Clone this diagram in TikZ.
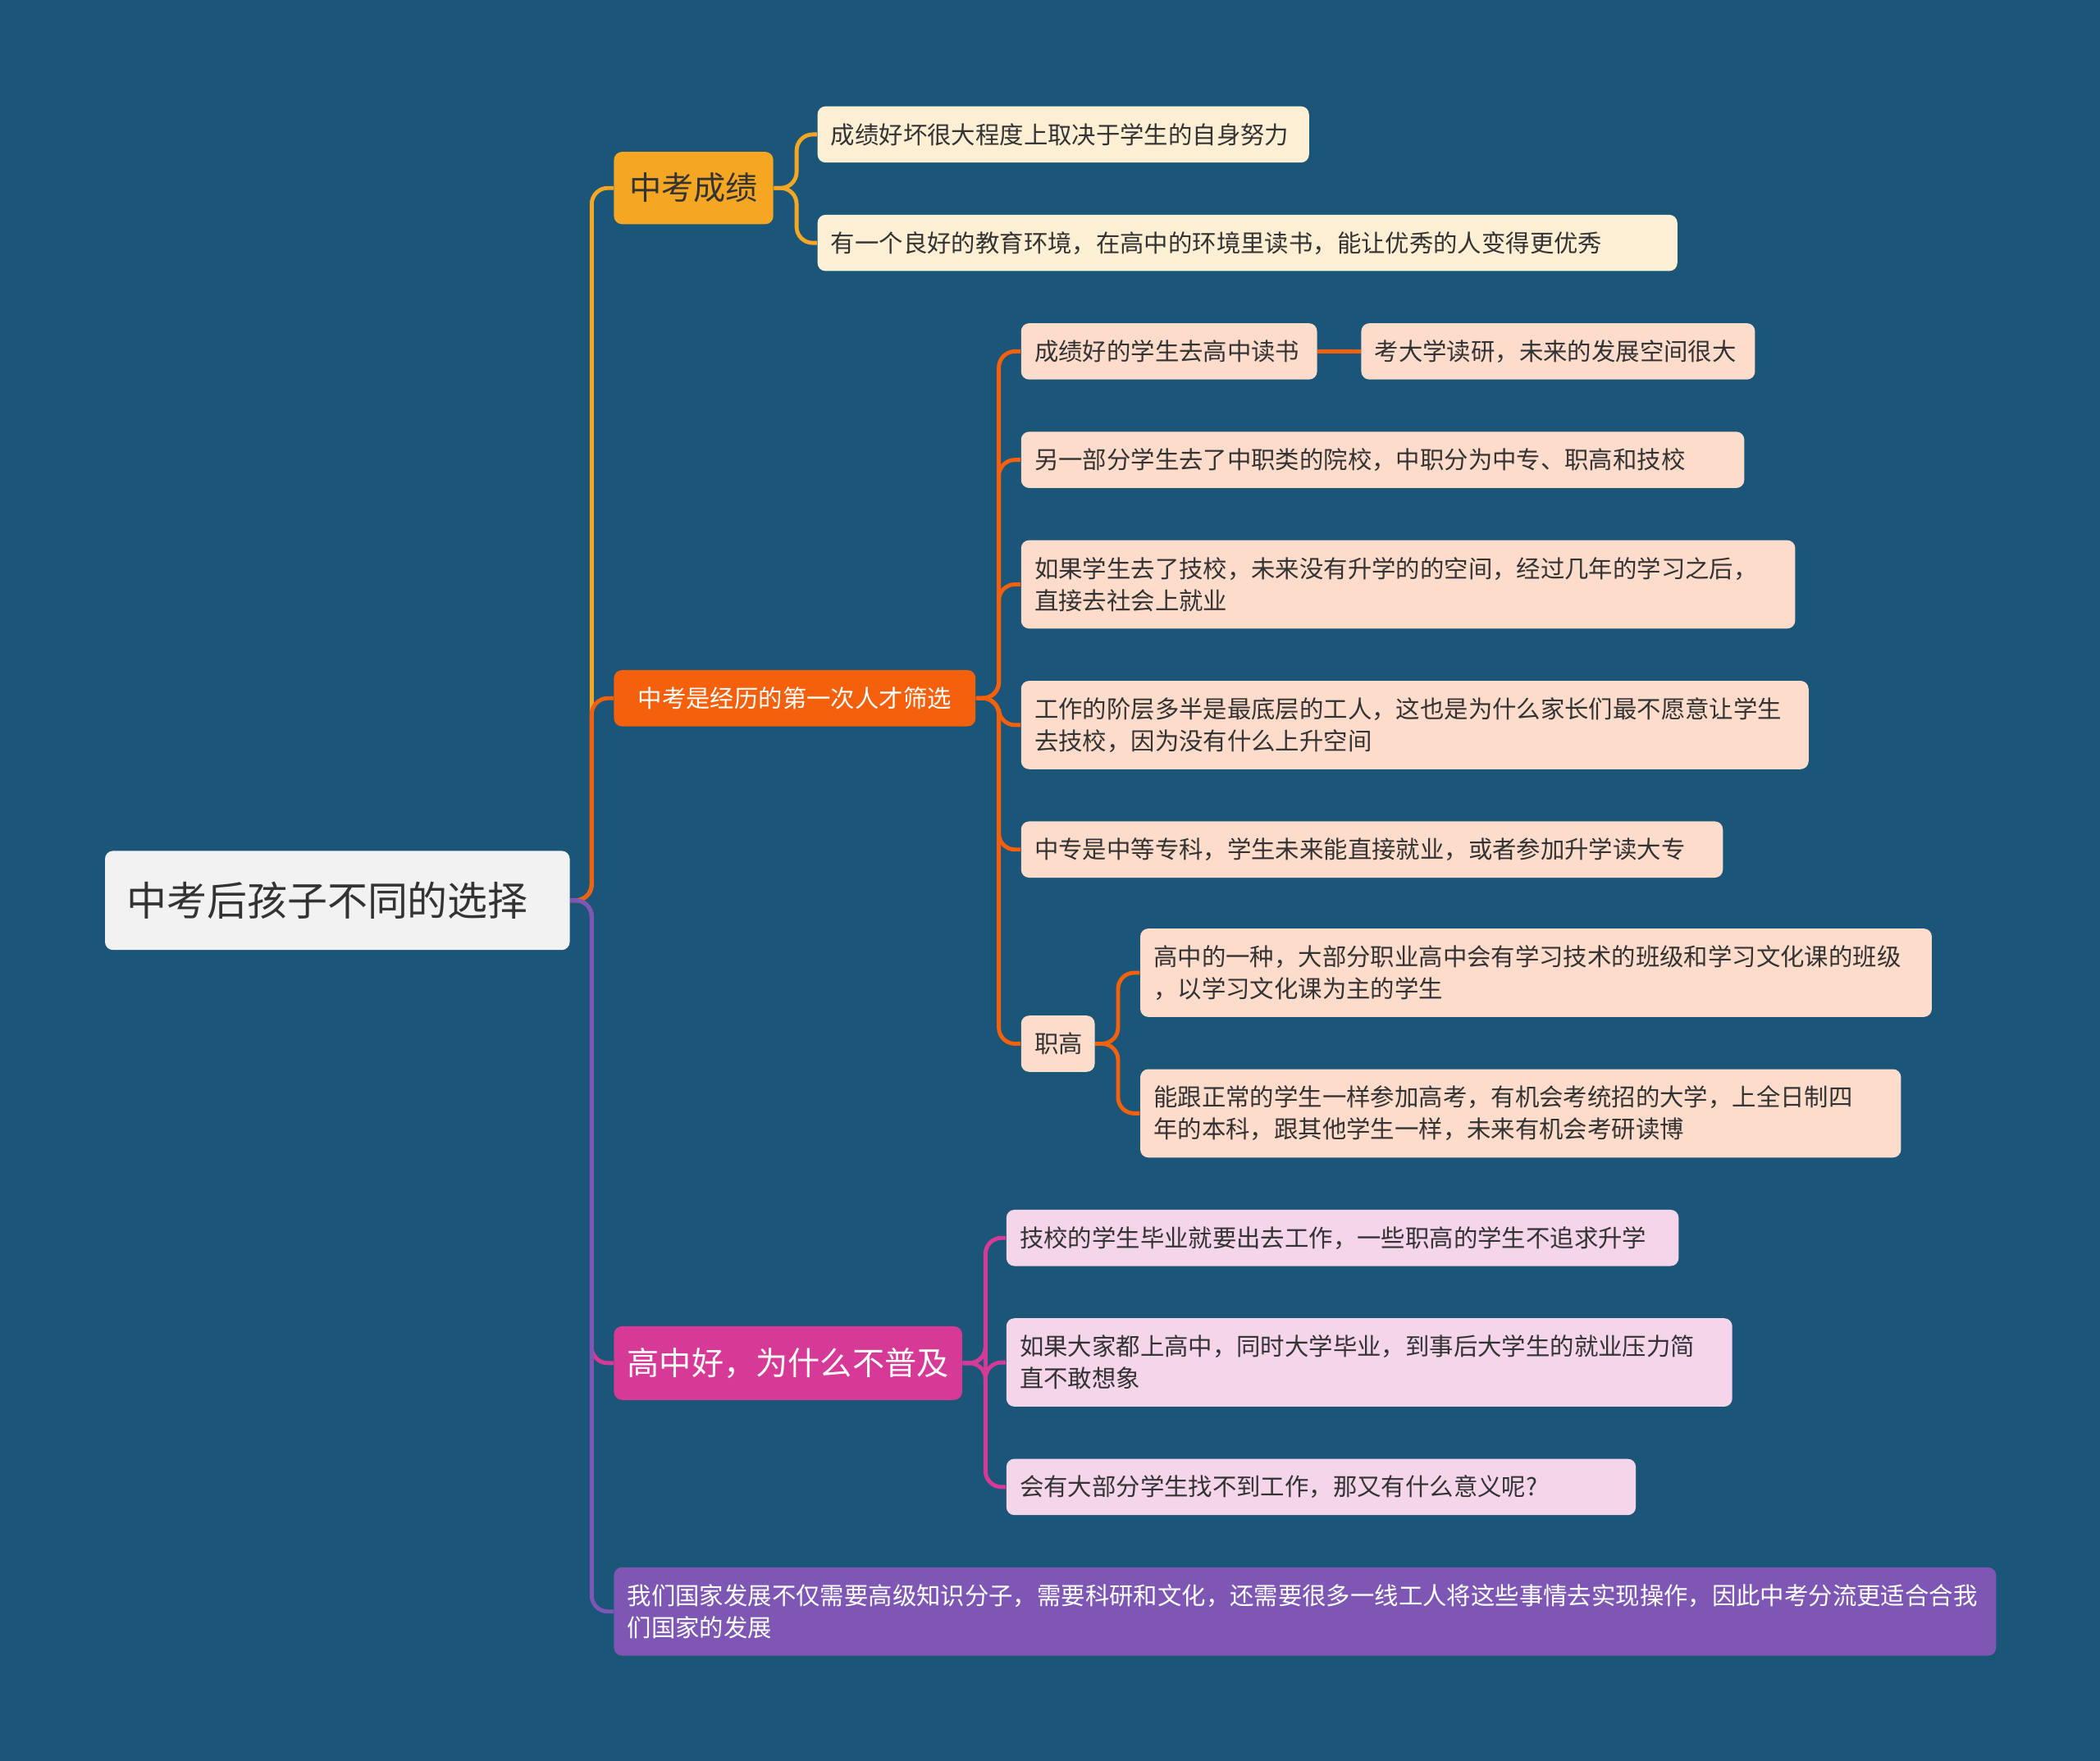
\documentclass[tikz,border=0pt]{standalone}
\usepackage{fontspec}
\setmainfont{Noto Sans CJK SC}
\begin{document}
\begin{tikzpicture}[x=0.5pt,y={(0pt,-0.5pt)},
 base/.style={anchor=north west,rounded corners=3pt,inner xsep=5pt,inner ysep=2pt,font=\fontsize{9}{12}\selectfont,align=left},
 lo/.style={base,fill=cream,text=txt},
 lr/.style={base,fill=peach,text=txt},
 lm/.style={base,fill=pinkl,text=txt},
 con/.style={line width=1.5pt,rounded corners=6pt}]
\definecolor{bg}{HTML}{1B5577}
\definecolor{txt}{HTML}{333333}
\definecolor{cream}{HTML}{FDEFD3}
\definecolor{peach}{HTML}{FDDCCB}
\definecolor{pinkl}{HTML}{F5D5EA}
\definecolor{orA}{HTML}{F5A623}
\definecolor{orB}{HTML}{F4600C}
\definecolor{mag}{HTML}{D63A96}
\definecolor{pur}{HTML}{7E57B5}
\fill[bg] (0,0) rectangle (1568,1315);
\useasboundingbox (0,0) rectangle (1568,1315);
% root
\node[base,fill=white!95!black,text=txt,inner xsep=8pt,text width=157.5pt,minimum height=37pt,align=left,font=\fontsize{15}{18}\selectfont] (root) at (78,635) {中考后孩子不同的选择};
% branch 1
\node[base,fill=orA,text=txt,minimum width=59.5pt,minimum height=27pt,align=center,font=\fontsize{12}{15}\selectfont] (b1) at (458,113) {中考成绩};
\node[lo,text width=173.5pt,minimum height=21pt] (c1) at (610,79) {成绩好坏很大程度上取决于学生的自身努力};
\node[lo,text width=311pt,minimum height=21pt] (c2) at (610,160) {有一个良好的教育环境，在高中的环境里读书，能让优秀的人变得更优秀};
% branch 2
\node[base,fill=orB,text=white,minimum width=135pt,minimum height=21pt] (b2) at (458,500) {中考是经历的第一次人才筛选};
\node[lr,text width=100.5pt,minimum height=21pt] (a1) at (762,241) {成绩好的学生去高中读书};
\node[lr,text width=137pt,minimum height=21pt] (a1b) at (1016,241) {考大学读研，未来的发展空间很大};
\node[lr,text width=260pt,minimum height=21pt] (a2) at (762,322) {另一部分学生去了中职类的院校，中职分为中专、职高和技校};
\node[lr,text width=279pt,minimum height=33pt] (a3) at (762,403) {如果学生去了技校，未来没有升学的的空间，经过几年的学习之后，\\直接去社会上就业};
\node[lr,text width=284pt,minimum height=33pt] (a4) at (762,508) {工作的阶层多半是最底层的工人，这也是为什么家长们最不愿意让学生\\去技校，因为没有什么上升空间};
\node[lr,text width=252pt,minimum height=21pt] (a5) at (762,613) {中专是中等专科，学生未来能直接就业，或者参加升学读大专};
\node[lr,text width=17.5pt,minimum height=21pt] (a6) at (762,758) {职高};
\node[lr,text width=285.5pt,minimum height=33pt] (e1) at (851,693) {高中的一种，大部分职业高中会有学习技术的班级和学习文化课的班级\\，以学习文化课为主的学生};
\node[lr,text width=274pt,minimum height=33pt] (e2) at (851,798) {能跟正常的学生一样参加高考，有机会考统招的大学，上全日制四\\年的本科，跟其他学生一样，未来有机会考研读博};
% branch 3
\node[base,fill=mag,text=white,minimum width=130pt,minimum height=27.5pt,font=\fontsize{12}{15}\selectfont] (b3) at (458,990) {高中好，为什么不普及};
\node[lm,text width=241pt,minimum height=21pt] (d1) at (751,903) {技校的学生毕业就要出去工作，一些职高的学生不追求升学};
\node[lm,text width=261pt,minimum height=33pt] (d2) at (751,984) {如果大家都上高中，同时大学毕业，到事后大学生的就业压力简\\直不敢想象};
\node[lm,text width=225pt,minimum height=21pt] (d3) at (751,1089) {会有大部分学生找不到工作，那又有什么意义呢?};
% branch 4
\node[base,fill=pur,text=white,text width=506pt,minimum height=33pt] (b4) at (458,1170) {我们国家发展不仅需要高级知识分子，需要科研和文化，还需要很多一线工人将这些事情去实现操作，因此中考分流更适合合我\\们国家的发展};
% connectors
\draw[con,orA] (root.east) -- ++(16,0) |- (b1.west);
\draw[con,orB] (root.east) -- ++(16,0) |- (b2.west);
\draw[con,mag] (root.east) -- ++(16,0) |- (b3.west);
\draw[con,pur] (root.east) -- ++(16,0) |- (b4.west);
\foreach \c in {c1,c2} \draw[con,orA] (b1.east) -- ++(17,0) |- (\c.west);
\foreach \c in {a1,a2,a3,a4,a5,a6} \draw[con,orB] (b2.east) -- ++(17,0) |- (\c.west);
\draw[con,orB] (a1.east) -- (a1b.west);
\foreach \c in {e1,e2} \draw[con,orB] (a6.east) -- ++(17,0) |- (\c.west);
\foreach \c in {d1,d2,d3} \draw[con,mag] (b3.east) -- ++(17,0) |- (\c.west);
\end{tikzpicture}
\end{document}
